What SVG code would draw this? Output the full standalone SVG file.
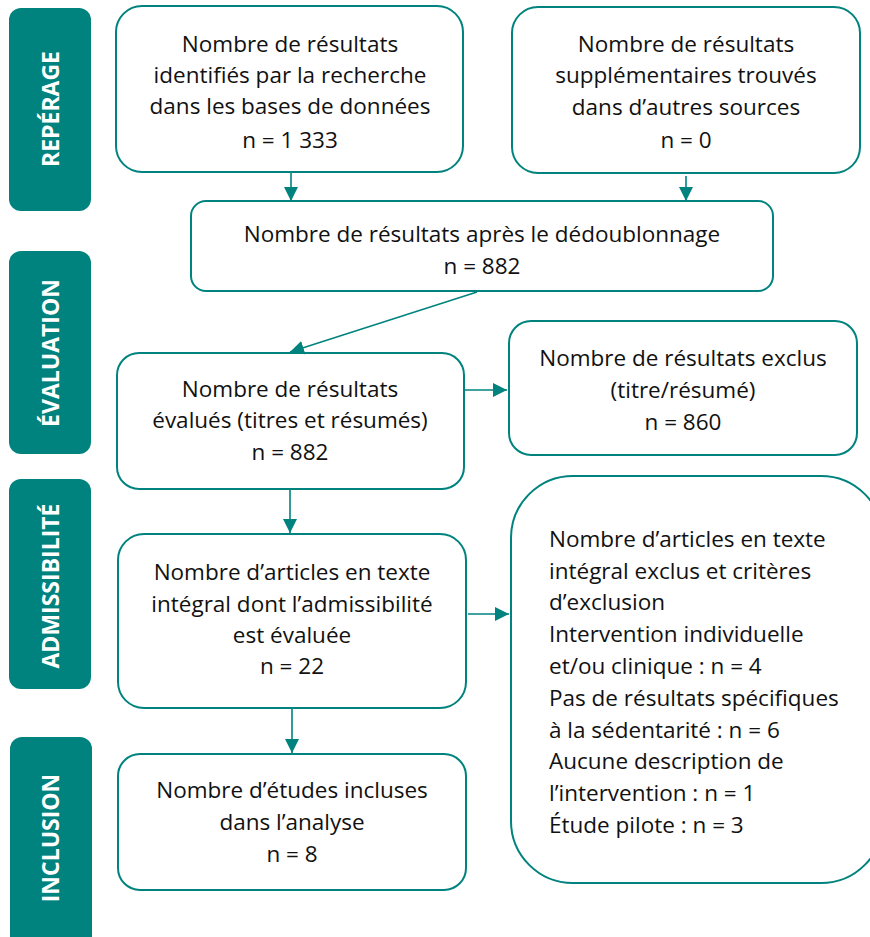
<svg xmlns="http://www.w3.org/2000/svg" width="870" height="937" viewBox="0 0 870 937">
<defs>
<style>
.lbl{fill:#00837E}
.lt{fill:#fff;font-family:"Open Sans","Noto Sans",sans-serif;font-weight:bold;font-size:23px;text-anchor:middle}
.box{fill:#fff;stroke:#00837E;stroke-width:2}
.t{fill:#111;font-family:"Open Sans","Noto Sans",sans-serif;font-size:22.5px;text-anchor:middle}
.tl{fill:#111;font-family:"Open Sans","Noto Sans",sans-serif;font-size:22.5px}
.c{stroke:#00837E;stroke-width:1.6;fill:none;marker-end:url(#ah)}
</style>
<marker id="ah" viewBox="0 0 10 10" refX="10" refY="5" markerWidth="14" markerHeight="14" markerUnits="userSpaceOnUse" orient="auto">
<path d="M0,0 L10,5 L0,10 z" fill="#00837E"/>
</marker>
</defs>
<rect width="870" height="937" fill="#fff"/>
<g id="lane-reperage"><rect class="lbl" x="9" y="8" width="82" height="203" rx="12"/><text class="lt" transform="translate(59,109) rotate(-90)">REPÉRAGE</text></g>
<g id="lane-evaluation"><rect class="lbl" x="9" y="251" width="82" height="203" rx="12"/><text class="lt" transform="translate(59,353) rotate(-90)">ÉVALUATION</text></g>
<g id="lane-admissibilite"><rect class="lbl" x="9" y="479" width="82" height="210" rx="12"/><text class="lt" transform="translate(59,586) rotate(-90)">ADMISSIBILITÉ</text></g>
<g id="lane-inclusion"><rect class="lbl" x="10" y="737" width="82" height="215" rx="12"/><text class="lt" transform="translate(59,838) rotate(-90)">INCLUSION</text></g>

<g id="n1"><rect class="box" x="116" y="6" width="347" height="166" rx="26"/>
<text class="t" x="290" y="52">Nombre de résultats</text>
<text class="t" x="290" y="83">identifiés par la recherche</text>
<text class="t" x="290" y="114">dans les bases de données</text>
<text class="t" x="290" y="148">n = 1 333</text></g>

<g id="n2"><rect class="box" x="512" y="7" width="348" height="166" rx="26"/>
<text class="t" x="686" y="52">Nombre de résultats</text>
<text class="t" x="686" y="83">supplémentaires trouvés</text>
<text class="t" x="686" y="115">dans d’autres sources</text>
<text class="t" x="686" y="148">n = 0</text></g>

<g id="n3"><rect class="box" x="191" y="201" width="582" height="90" rx="15"/>
<text class="t" x="482" y="242">Nombre de résultats après le dédoublonnage</text>
<text class="t" x="482" y="274">n = 882</text></g>

<g id="n4"><rect class="box" x="117" y="353" width="347" height="136" rx="22"/>
<text class="t" x="290" y="397">Nombre de résultats</text>
<text class="t" x="290" y="428">évalués (titres et résumés)</text>
<text class="t" x="290" y="460">n = 882</text></g>

<g id="n5"><rect class="box" x="509" y="321" width="348" height="134" rx="22"/>
<text class="t" x="683" y="366">Nombre de résultats exclus</text>
<text class="t" x="683" y="398">(titre/résumé)</text>
<text class="t" x="683" y="430">n = 860</text></g>

<g id="n6"><rect class="box" x="118" y="534" width="348" height="174" rx="26"/>
<text class="t" x="292" y="580">Nombre d’articles en texte</text>
<text class="t" x="292" y="612">intégral dont l’admissibilité</text>
<text class="t" x="292" y="643">est évaluée</text>
<text class="t" x="292" y="674">n = 22</text></g>

<g id="n7"><rect class="box" x="118" y="754" width="348" height="136" rx="22"/>
<text class="t" x="292" y="798">Nombre d’études incluses</text>
<text class="t" x="292" y="830">dans l’analyse</text>
<text class="t" x="292" y="862">n = 8</text></g>

<g id="n8"><rect class="box" x="511" y="476" width="372" height="407" rx="62"/>
<text class="tl" x="549" y="547">Nombre d’articles en texte</text>
<text class="tl" x="549" y="579">intégral exclus et critères</text>
<text class="tl" x="549" y="610">d’exclusion</text>
<text class="tl" x="549" y="642">Intervention individuelle</text>
<text class="tl" x="549" y="674">et/ou clinique : n = 4</text>
<text class="tl" x="549" y="706">Pas de résultats spécifiques</text>
<text class="tl" x="549" y="738">à la sédentarité : n = 6</text>
<text class="tl" x="549" y="769">Aucune description de</text>
<text class="tl" x="549" y="801">l’intervention : n = 1</text>
<text class="tl" x="549" y="833">Étude pilote : n = 3</text></g>

<g id="connectors">
<line class="c" x1="291" y1="172" x2="291" y2="201"/>
<line class="c" x1="686" y1="176" x2="686" y2="201"/>
<line class="c" x1="477" y1="292" x2="290" y2="352"/>
<line class="c" x1="465" y1="390" x2="507" y2="390"/>
<line class="c" x1="290" y1="489" x2="290" y2="533"/>
<line class="c" x1="468" y1="614" x2="509" y2="614"/>
<line class="c" x1="292" y1="708" x2="292" y2="753"/>
</g>
</svg>
